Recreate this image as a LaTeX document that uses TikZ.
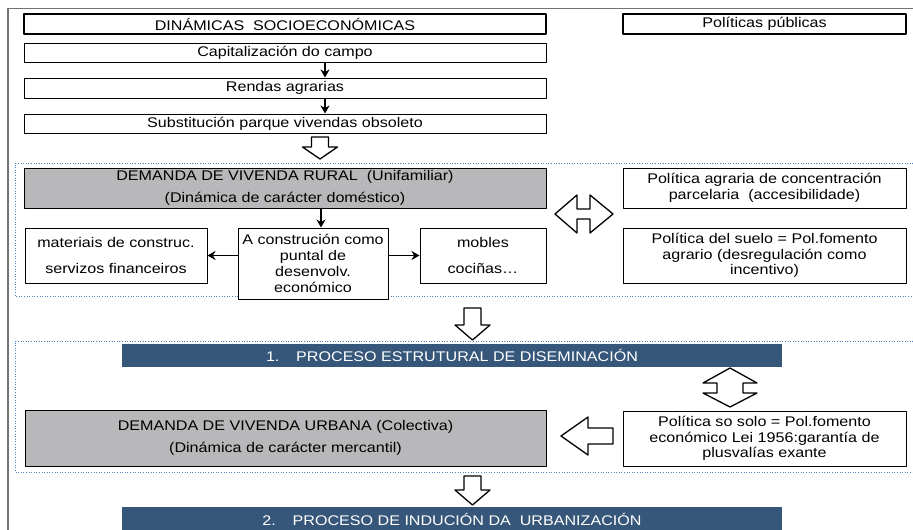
\documentclass[tikz,border=0pt]{standalone}
\usepackage{fontspec}
\setmainfont[FakeStretch=1.15]{Liberation Sans}
\usetikzlibrary{arrows.meta}
\definecolor{bbbbbc}{rgb}{0.72,0.72,0.73}
\definecolor{ttuuww}{rgb}{0.21,0.34,0.48}
\definecolor{ttwwcc}{rgb}{0.31,0.51,0.74}
\definecolor{wwwwww}{rgb}{0.45,0.45,0.45}
\newcommand{\holdown}[4]{\draw[hollow] (#1,#2) -- ++(-17.5,-#3) -- ++(9,0) -- ++(0,-#4) -- ++(17,0) -- ++(0,#4) -- ++(9,0) -- cycle;}
\begin{document}
\begin{tikzpicture}[x=1pt,y=-1pt,line join=round,
box/.style={draw=black,fill=white,line width=1pt,align=center,inner sep=0pt,font=\fontsize{14}{15.5}\selectfont},
headbox/.style={box,line width=2.2pt},
greybox/.style={box,fill=bbbbbc},
barbox/.style={fill=ttuuww,text=white,inner sep=0pt,font=\fontsize{14}{15.5}\selectfont},
hollow/.style={draw=black,line width=1.3pt,fill=white},
dotbox/.style={draw=ttwwcc,dotted,line width=0.6pt},
small/.style={-{Stealth[length=8pt,width=9pt]},line width=1.4pt}]
\useasboundingbox (0,0) rectangle (913,530);
\clip (0,0) rectangle (913,530);
\draw[wwwwww,line width=1.3pt] (8,530) -- (8,8.5) -- (913,8.5);
\draw[dotbox] (913,163) -- (15,163) -- (15,296) -- (913,296);
\draw[dotbox] (913,341) -- (15,341) -- (15,472) -- (913,472);
% dinamicas
\node[headbox,minimum width=522pt,minimum height=20pt] (dinam) at (285,24) {DINÁMICAS~ SOCIOECONÓMICAS};
\node[headbox,minimum width=283pt,minimum height=20pt] (polpub) at (764.5,24) {Políticas públicas};
\node[box,minimum width=522pt,minimum height=19pt] (capital) at (285,52.5) {Capitalización do campo};
\node[box,minimum width=522pt,minimum height=20pt] (rendas) at (285,88) {Rendas agrarias};
\node[box,minimum width=522pt,minimum height=19pt] (subst) at (285,123.5) {Substitución parque vivendas obsoleto};
\coordinate (spine) at (325,0);
\draw[small] (capital.south -| spine) -- (rendas.north -| spine);
\draw[small] (rendas.south -| spine) -- (subst.north -| spine);
\holdown{320}{159}{12}{10}
% vivenda rural
\node[greybox,minimum width=522pt,minimum height=40pt] (rural) at (285,188) {DEMANDA DE VIVENDA RURAL~ (Unifamiliar)\\[6.5pt](Dinámica de carácter doméstico)};
\node[box,minimum width=150pt,minimum height=71pt,font=\fontsize{14}{16}\selectfont] (central) at (313,263.5) {A construción como\\puntal de\\desenvolv.\\económico};
\node[box,minimum width=182pt,minimum height=55pt] (materiais) at (116,255.5) {materiais de construc.\\[10.5pt]servizos financeiros};
\node[box,minimum width=126pt,minimum height=55pt] (mobles) at (483,255.5) {mobles\\[10.5pt]cociñas…};
\coordinate (spine2) at (321,0);
\draw[small] (rural.south -| spine2) -- (central.north -| spine2);
\draw[small] (central.west |- materiais.east) -- (materiais.east);
\draw[small] (central.east |- mobles.west) -- (mobles.west);
\node[box,minimum width=283pt,minimum height=40pt] (pol1) at (764.5,188) {Política agraria de concentración\\parcelaria~ (accesibilidade)};
\node[box,minimum width=283pt,minimum height=55pt] (pol2) at (764.5,255.5) {Política del suelo = Pol.fomento\\agrario (desregulación como\\incentivo)};
\draw[hollow] (555,214) -- (577,195) -- (577,209) -- (590,209) -- (590,195) -- (613,214) -- (590,233) -- (590,219) -- (577,219) -- (577,233) -- cycle;
\holdown{472.5}{340}{15}{17}
% vivenda urbana
\node[barbox,minimum width=660pt,minimum height=23pt] (bar1) at (452,355.5) {1.\hspace{1.2em}PROCESO ESTRUTURAL DE DISEMINACIÓN};
\draw[hollow] (730,368) -- (757,383) -- (743,383) -- (743,393) -- (757,393) -- (730,407) -- (703,393) -- (717,393) -- (717,383) -- (703,383) -- cycle;
\node[greybox,minimum width=521pt,minimum height=56pt] (urbana) at (285.5,438) {DEMANDA DE VIVENDA URBANA (Colectiva)\\[6.5pt](Dinámica de carácter mercantil)};
\node[box,minimum width=283pt,minimum height=55pt] (pol3) at (764.5,438.5) {Política so solo = Pol.fomento\\económico Lei 1956:garantía de\\plusvalías exante};
\draw[hollow] (561,436) -- (588,417) -- (588,428) -- (613,428) -- (613,444) -- (588,444) -- (588,455) -- cycle;
\holdown{472.5}{505}{15}{14}
\node[barbox,minimum width=660pt,minimum height=24pt] (bar2) at (452,519) {2.\hspace{1.2em}PROCESO DE INDUCIÓN DA~ URBANIZACIÓN};
\end{tikzpicture}
\end{document}
